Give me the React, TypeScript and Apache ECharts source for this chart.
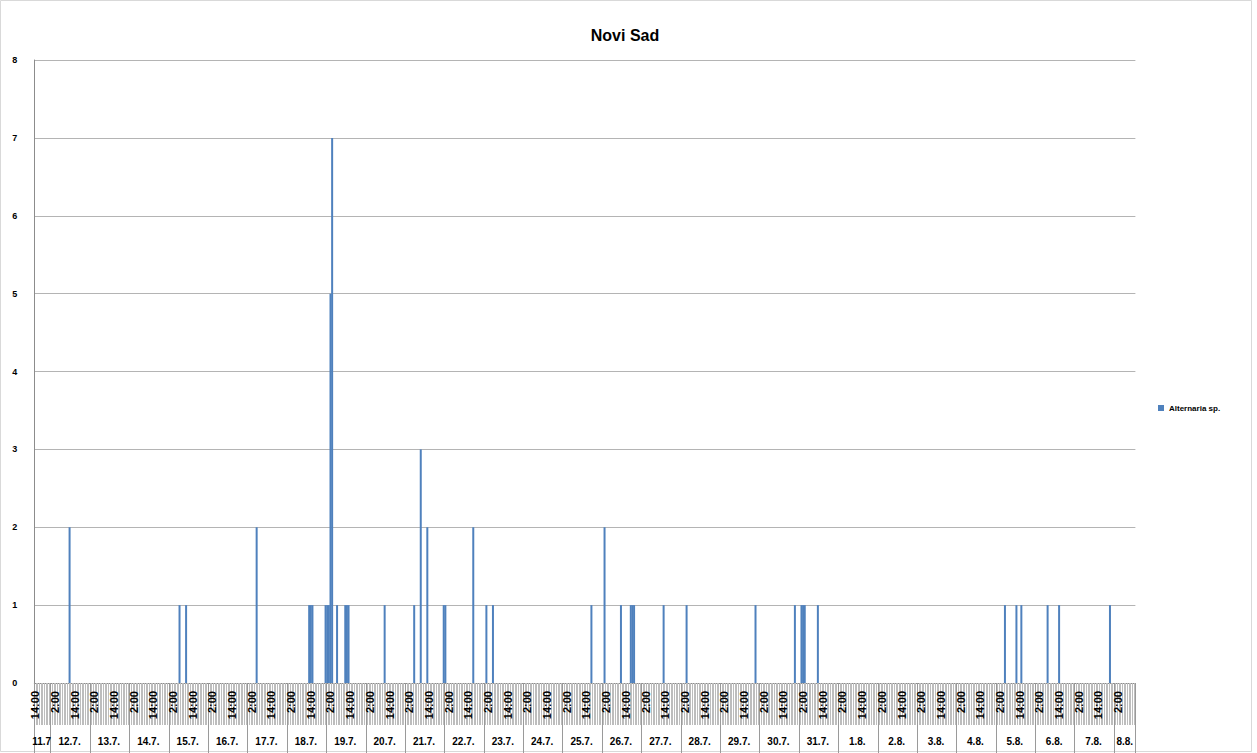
import React, { useEffect, useRef } from "react";
import * as echarts from "echarts";

const title = "Novi Sad";
const seriesName = "Alternaria sp.";
const days = [
  "11.7", "12.7.", "13.7.", "14.7.", "15.7.", "16.7.", "17.7.", "18.7.", "19.7.", "20.7.",
  "21.7.", "22.7.", "23.7.", "24.7.", "25.7.", "26.7.", "27.7.", "28.7.", "29.7.", "30.7.",
  "31.7.", "1.8.", "2.8.", "3.8.", "4.8.", "5.8.", "6.8.", "7.8.", "8.8.",
];
const firstHour = 14;
const lastHour = 12;
const obsTimes = [
  "12.7. 11:00", "15.7. 6:00", "15.7. 10:00", "17.7. 5:00",
  "18.7. 13:00", "18.7. 14:00", "18.7. 15:00", "18.7. 23:00",
  "19.7. 0:00", "19.7. 1:00", "19.7. 2:00", "19.7. 3:00", "19.7. 6:00",
  "19.7. 11:00", "19.7. 12:00", "19.7. 13:00", "20.7. 11:00",
  "21.7. 5:00", "21.7. 9:00", "21.7. 13:00", "21.7. 23:00", "22.7. 0:00",
  "22.7. 17:00", "23.7. 1:00", "23.7. 5:00", "25.7. 17:00",
  "26.7. 1:00", "26.7. 11:00", "26.7. 17:00", "26.7. 18:00", "26.7. 19:00",
  "27.7. 13:00", "28.7. 3:00", "29.7. 21:00", "30.7. 21:00",
  "31.7. 1:00", "31.7. 2:00", "31.7. 3:00", "31.7. 11:00",
  "5.8. 5:00", "5.8. 12:00", "5.8. 15:00", "6.8. 7:00", "6.8. 14:00", "7.8. 21:00",
];
const obsValues = [
  2, 1, 1, 2,
  1, 1, 1, 1,
  1, 1, 5, 7, 1,
  1, 1, 1, 1,
  1, 3, 2, 1, 1,
  2, 1, 1, 1,
  2, 1, 1, 1, 1,
  1, 1, 1, 1,
  1, 1, 1, 1,
  1, 1, 1, 1, 1, 1,
];

export default function App() {
  const ref = useRef<HTMLDivElement>(null);
  useEffect(() => {
    if (!ref.current) return;
    const chart = echarts.init(ref.current, undefined, { renderer: "svg" });

    const categories: string[] = [];
    const dayCenters = new Set<number>();
    const dayStarts = new Set<number>();
    for (let d = 0; d < days.length; d++) {
      const h0 = d === 0 ? firstHour : 0;
      const h1 = d === days.length - 1 ? lastHour : 23;
      const s = categories.length;
      dayStarts.add(s);
      for (let h = h0; h <= h1; h++) categories.push(`${days[d]} ${h}:00`);
      const e = categories.length - 1;
      dayCenters.add(Math.floor((s + e) / 2));
    }
    const valueMap = new Map<string, number>();
    obsTimes.forEach((t, i) => valueMap.set(t, obsValues[i]));
    const values = categories.map((c) => (valueMap.has(c) ? valueMap.get(c)! : 0));

    const font = "'Liberation Sans', Arial, sans-serif";

    chart.setOption({
      animation: false,
      title: {
        text: title,
        left: 620,
        top: 22,
        textAlign: "center",
        textStyle: { fontSize: 16, fontWeight: "bold", color: "#000", fontFamily: font },
      },
      legend: {
        data: [seriesName],
        left: 1153,
        top: 399,
        itemWidth: 6,
        itemHeight: 6,
        icon: "rect",
        itemGap: 5,
        textStyle: { fontSize: 8, fontWeight: "bold", color: "#000", fontFamily: font },
      },
      grid: { left: 34.3, top: 60, width: 1101.1, height: 623 },
      xAxis: [
        {
          type: "category",
          data: categories,
          position: "bottom",
          boundaryGap: true,
          axisLine: { show: true, lineStyle: { color: "#8c8c8c", width: 1 } },
          axisTick: { show: true, interval: 0, length: 42, lineStyle: { color: "#bdbdbd", width: 1 } },
          axisLabel: {
            interval: (i: number) => i % 12 === 0,
            rotate: 90,
            margin: 8,
            fontSize: 11,
            fontWeight: "bold",
            color: "#000",
            fontFamily: font,
            formatter: (v: string) => v.split(" ")[1],
          },
          splitLine: { show: false },
        },
        {
          type: "category",
          data: categories,
          position: "bottom",
          boundaryGap: true,
          axisLine: { show: false },
          axisTick: {
            show: true,
            interval: (i: number) => dayStarts.has(i),
            length: 70,
            lineStyle: { color: "#9a9a9a", width: 1 },
          },
          axisLabel: {
            interval: (i: number) => dayCenters.has(i),
            margin: 53,
            fontSize: 10,
            fontWeight: "bold",
            color: "#000",
            fontFamily: font,
            formatter: (v: string) => v.split(" ")[0],
          },
          splitLine: { show: false },
        },
      ],
      yAxis: {
        type: "value",
        min: 0,
        max: 8,
        interval: 1,
        axisLine: { show: true, lineStyle: { color: "#8c8c8c" } },
        axisTick: { show: false },
        axisLabel: { fontSize: 9, fontWeight: "bold", color: "#000", margin: 17, fontFamily: font },
        splitLine: { show: true, lineStyle: { color: "#b4b4b4", width: 1 } },
      },
      series: [
        {
          name: seriesName,
          type: "bar",
          xAxisIndex: 0,
          data: values,
          barWidth: 2,
          itemStyle: { color: "#4F81BD" },
        },
      ],
      graphic: [
        {
          type: "rect",
          shape: { x: 0.5, y: 0.5, width: 1251, height: 751 },
          style: { fill: "none", stroke: "#d9d9d9", lineWidth: 1 },
          silent: true,
        },
      ],
    });
    return () => chart.dispose();
  }, []);
  return (
    <div
      ref={ref}
      style={{ position: "absolute", left: 0, top: 0, width: 1257, height: 753, background: "#fff" }}
    />
  );
}
